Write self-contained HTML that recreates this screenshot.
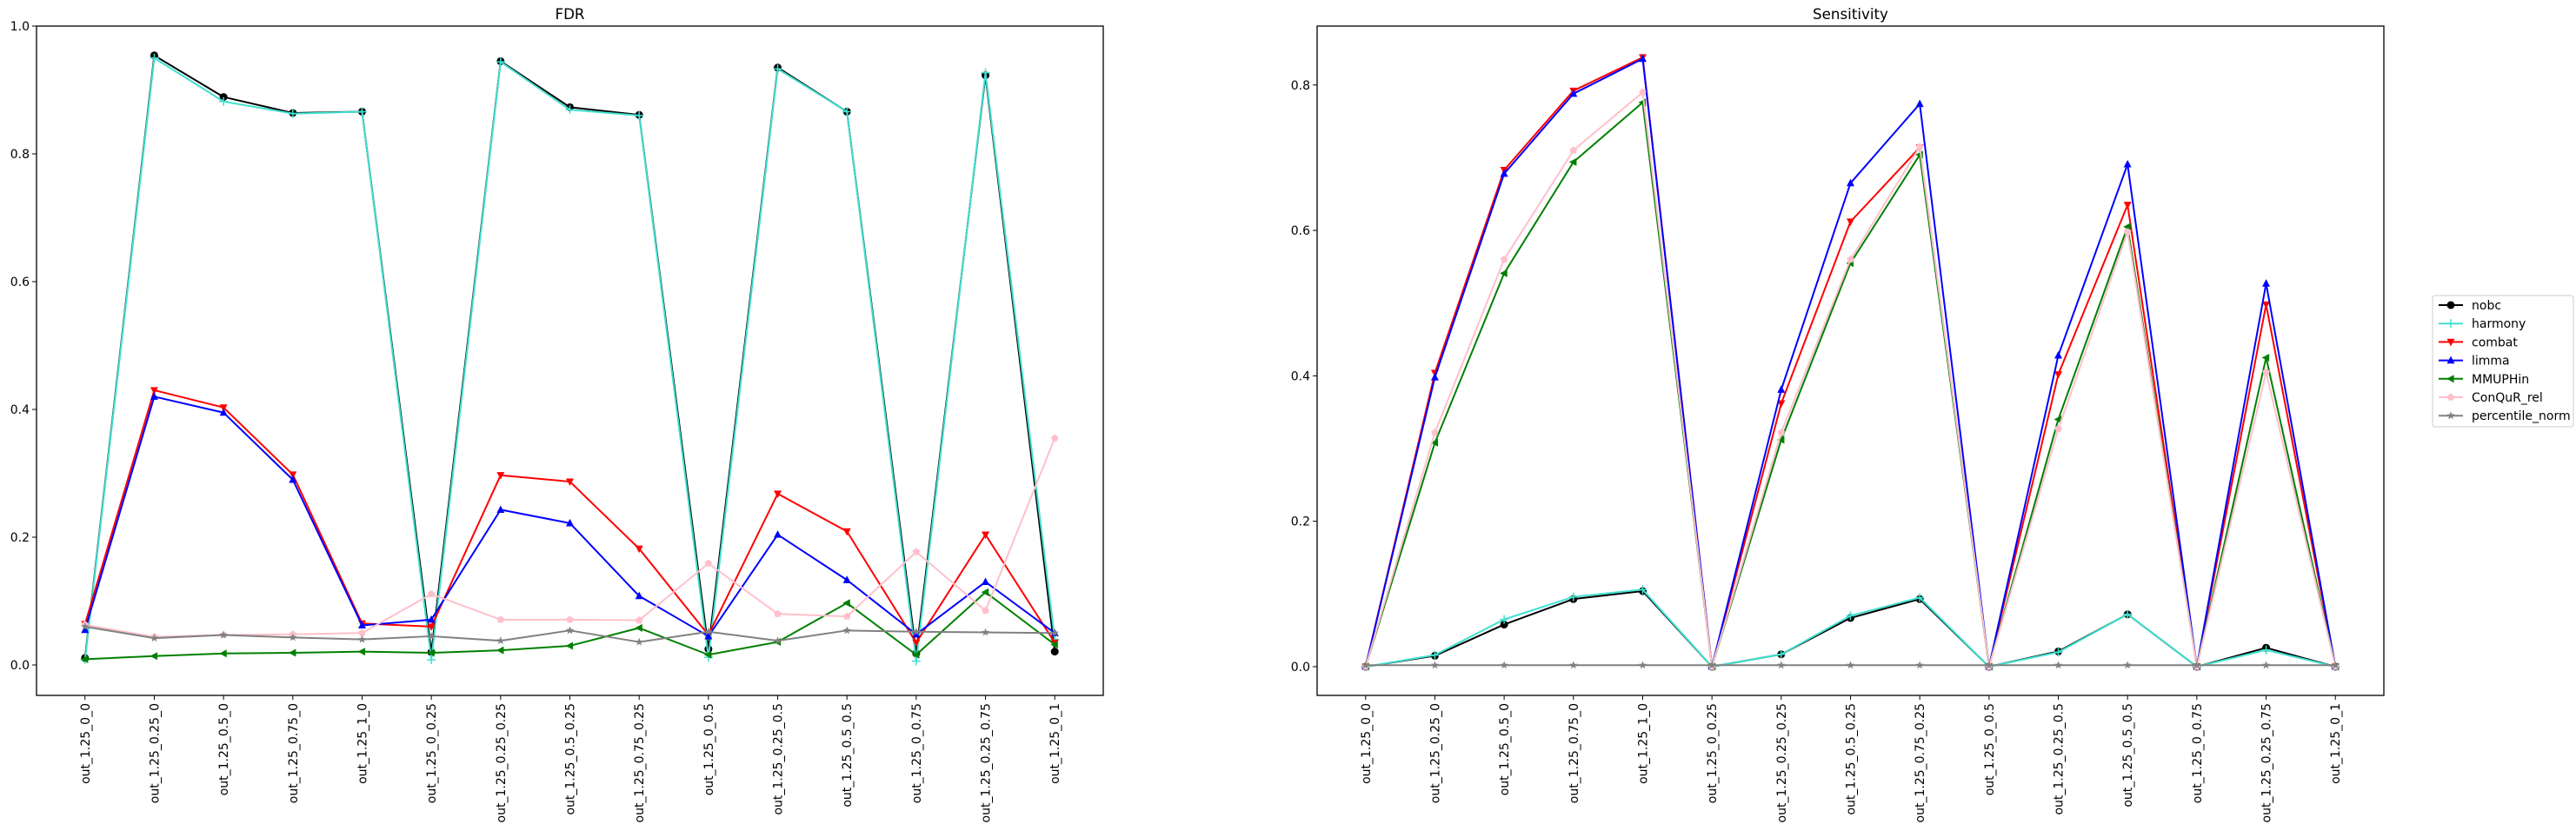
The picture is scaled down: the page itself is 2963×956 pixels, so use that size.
<!DOCTYPE html>
<html><head><meta charset="utf-8"><style>
body{margin:0;background:#fff;}
svg{display:block;font-family:"DejaVu Sans","Liberation Sans",sans-serif;}
</style></head><body>
<svg id="fig" width="2963" height="956" viewBox="0 0 2963 956" xmlns="http://www.w3.org/2000/svg"></svg>
<script>
const categories=["out_1.25_0_0","out_1.25_0.25_0","out_1.25_0.5_0","out_1.25_0.75_0","out_1.25_1_0","out_1.25_0_0.25","out_1.25_0.25_0.25","out_1.25_0.5_0.25","out_1.25_0.75_0.25","out_1.25_0_0.5","out_1.25_0.25_0.5","out_1.25_0.5_0.5","out_1.25_0_0.75","out_1.25_0.25_0.75","out_1.25_0_1"];
const seriesNames=["nobc","harmony","combat","limma","MMUPHin","ConQuR_rel","percentile_norm"];
const fdrNobc=[0.011,0.954,0.889,0.864,0.866,0.02,0.945,0.873,0.861,0.025,0.935,0.866,0.018,0.923,0.021];
const fdrHarmony=[0.008,0.95,0.882,0.863,0.866,0.008,0.944,0.869,0.86,0.012,0.933,0.866,0.006,0.927,0.04];
const fdrCombat=[0.064,0.43,0.403,0.298,0.065,0.06,0.297,0.287,0.182,0.047,0.268,0.209,0.035,0.204,0.035];
const fdrLimma=[0.055,0.42,0.395,0.29,0.062,0.071,0.243,0.222,0.108,0.045,0.204,0.133,0.048,0.13,0.05];
const fdrMMUPHin=[0.009,0.014,0.018,0.019,0.021,0.019,0.023,0.03,0.058,0.016,0.036,0.097,0.016,0.114,0.032];
const fdrConQuR=[0.063,0.044,0.047,0.048,0.05,0.111,0.071,0.071,0.07,0.159,0.08,0.076,0.177,0.085,0.355];
const fdrPercentile=[0.06,0.042,0.047,0.043,0.04,0.045,0.038,0.054,0.036,0.052,0.038,0.054,0.052,0.051,0.05];
const senNobc=[0,0.015,0.058,0.093,0.104,0,0.017,0.067,0.093,0,0.021,0.072,0,0.026,0];
const senHarmony=[0,0.016,0.065,0.096,0.106,0,0.017,0.07,0.095,0,0.02,0.072,0,0.023,0];
const senCombat=[0,0.404,0.683,0.792,0.838,0,0.362,0.612,0.714,0,0.402,0.635,0,0.498,0];
const senLimma=[0,0.398,0.678,0.788,0.836,0,0.381,0.665,0.774,0,0.428,0.691,0,0.527,0];
const senMMUPHin=[0,0.308,0.541,0.694,0.776,0,0.312,0.555,0.704,0,0.34,0.605,0,0.425,0];
const senConQuR=[0,0.322,0.56,0.71,0.79,0,0.322,0.56,0.715,0,0.327,0.598,0,0.405,0];
const senPercentile=[0.002,0.002,0.002,0.002,0.002,0.002,0.002,0.002,0.002,0.002,0.002,0.002,0.002,0.002,0.002];
const fdrTicks=[0.0,0.2,0.4,0.6,0.8,1.0];
const senTicks=[0.0,0.2,0.4,0.6,0.8];

const colors=["black","#40e0d0","red","blue","green","pink","gray"];
const markers=["o","+","v","^","<","p","*"];
const NS="http://www.w3.org/2000/svg";
const svg=document.getElementById("fig");
function mk(tag,attrs,parent){const e=document.createElementNS(NS,tag);for(const k in attrs)e.setAttribute(k,attrs[k]);(parent||svg).appendChild(e);return e;}
function markerPath(m,x,y){const r=4.5;
 if(m==="v")return `M${x-r},${y-r*0.8}L${x+r},${y-r*0.8}L${x},${y+r*1.1}Z`;
 if(m==="^")return `M${x-r},${y+r*0.8}L${x+r},${y+r*0.8}L${x},${y-r*1.1}Z`;
 if(m==="<")return `M${x+r*0.8},${y-r}L${x+r*0.8},${y+r}L${x-r*1.1},${y}Z`;
 if(m==="p"){let s="";for(let i=0;i<5;i++){const a=-Math.PI/2+i*2*Math.PI/5;s+=(i?"L":"M")+(x+r*Math.cos(a))+","+(y+r*Math.sin(a));}return s+"Z";}
 if(m==="*"){let s="";for(let i=0;i<10;i++){const rr=i%2?r*0.45:r*1.1;const a=-Math.PI/2+i*Math.PI/5;s+=(i?"L":"M")+(x+rr*Math.cos(a))+","+(y+rr*Math.sin(a));}return s+"Z";}
 return "";}
function drawMarker(g,m,x,y,c){
 if(m==="o"){const e=mk("circle",{cx:x,cy:y,r:4.5,fill:c},g);return e;}
 if(m==="+"){return mk("path",{d:`M${x-5},${y}L${x+5},${y}M${x},${y-5}L${x},${y+5}`,stroke:c,"stroke-width":1.5},g);}
 return mk("path",{d:markerPath(m,x,y),fill:c},g);}

function drawAxes(name,title,L,R,T,B,ymin,ymax,ticks,series){
 const n=categories.length;const span=(R-L)/(n-1+0.1*(n-1)/(n-1)*1);
 const x0=L+(R-L)*0.05/1.1, x1=R-(R-L)*0.05/1.1;
 const xs=i=>x0+(x1-x0)*i/(n-1);
 const ys=v=>B-(v-ymin)/(ymax-ymin)*(B-T);
 const g=mk("g",{});
 
 
 const t=mk("text",{x:(L+R)/2,y:T-8,"text-anchor":"middle","font-size":"16.7"},g);t.textContent=title;
 
 
 ticks.forEach(v=>{const y=ys(v);
  mk("line",{x1:L-5,x2:L,y1:y,y2:y,stroke:"black","stroke-width":1},g);
  const tt=mk("text",{x:L-8,y:y+5,"text-anchor":"end","font-size":"14"},g);tt.textContent=v.toFixed(1);
  
  
 });
 categories.forEach((c,i)=>{const x=xs(i);
  mk("line",{x1:x,x2:x,y1:B,y2:B+5,stroke:"black","stroke-width":1},g);
  const tt=mk("text",{x:0,y:0,"text-anchor":"end","font-size":"14",transform:`translate(${x+5},${B+9}) rotate(-90)`},g);tt.textContent=c;
  
  
 });
 series.forEach((vals,si)=>{
  const sg=mk("g",{},g);
  
  
  const pts=vals.map((v,i)=>xs(i)+","+ys(v)).join(" ");
  mk("polyline",{points:pts,fill:"none",stroke:colors[si],"stroke-width":2,"stroke-linejoin":"round"},sg);
  vals.forEach((v,i)=>{const m=drawMarker(sg,markers[si],xs(i),ys(v),colors[si]);
   
   
  });
 });
 const fr=mk("rect",{x:L,y:T,width:R-L,height:B-T,fill:"none",stroke:"black","stroke-width":1.3},g);
 
 
}
drawAxes("fdr","FDR",42,1269,30,800,-0.0476,1.0,fdrTicks,[fdrNobc,fdrHarmony,fdrCombat,fdrLimma,fdrMMUPHin,fdrConQuR,fdrPercentile]);
drawAxes("sensitivity","Sensitivity",1515,2742,30,800,-0.0395,0.881,senTicks,[senNobc,senHarmony,senCombat,senLimma,senMMUPHin,senConQuR,senPercentile]);

const lg=mk("g",{});


mk("rect",{x:2798,y:340,width:162,height:151,rx:3,fill:"white",stroke:"#ccc","stroke-width":1},lg);
seriesNames.forEach((s,i)=>{const y=351+i*21.2;
 const eg=mk("g",{},lg);
 
 
 mk("line",{x1:2805,x2:2833,y1:y,y2:y,stroke:colors[i],"stroke-width":2},eg);
 drawMarker(eg,markers[i],2819,y,colors[i]);
 const t=mk("text",{x:2843,y:y+5,"font-size":"14"},eg);t.textContent=s;
});
</script>
</body></html>
